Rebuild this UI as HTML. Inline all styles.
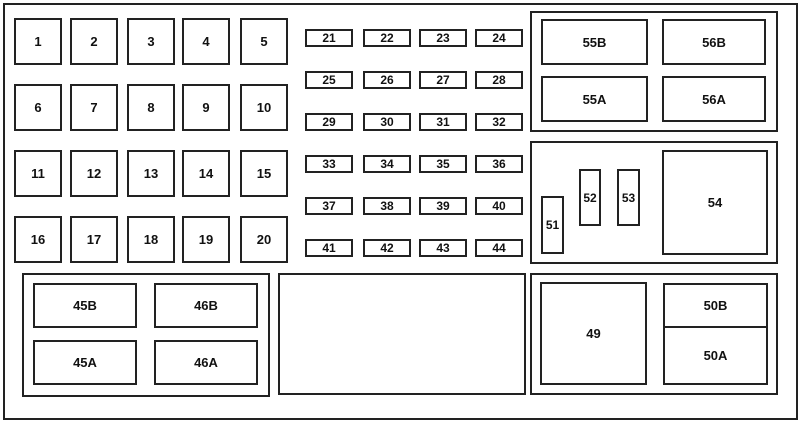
<!DOCTYPE html><html><head><style>
body{margin:0;background:#fff;width:800px;height:423px;position:relative;font-family:"Liberation Sans",sans-serif;font-weight:bold;color:#111}
.b{position:absolute;border:2.5px solid #222;box-sizing:border-box;display:flex;align-items:center;justify-content:center;font-size:13px;background:#fff}
.s{font-size:12px;border-width:2px}
</style></head><body>
<div class="b" style="left:3px;top:3px;width:795px;height:417px"></div>
<div id="c"></div>
<script>
var h='';function b(x,y,w,hh,t,c){h+='<div class="b '+(c||'')+'" style="left:'+x+'px;top:'+y+'px;width:'+w+'px;height:'+hh+'px">'+t+'</div>';}
var cx=[14,70,127,182,240],ry=[18,84,150,216],n=1;
for(var r=0;r<4;r++)for(var i=0;i<5;i++)b(cx[i],ry[r],48,47,n++);
var mx=[305,363,419,475],my=[29,71,113,155,197,239];n=21;
for(var r=0;r<6;r++)for(var i=0;i<4;i++)b(mx[i],my[r],48,18,n++,'s');
b(530,11,248,121,'');b(541,19,107,46,'55B');b(662,19,104,46,'56B');b(541,76,107,46,'55A');b(662,76,104,46,'56A');
b(530,141,248,123,'');b(541,196,23,58,'51','s');b(579,169,22,57,'52','s');b(617,169,23,57,'53','s');b(662,150,106,105,'54');
b(530,273,248,122,'');b(540,282,107,103,'49');b(663,283,105,45,'50B');b(663,326,105,59,'50A');
b(22,273,248,124,'');b(33,283,104,45,'45B');b(154,283,104,45,'46B');b(33,340,104,45,'45A');b(154,340,104,45,'46A');
b(278,273,248,122,'');
document.getElementById('c').innerHTML=h;
</script>
</body></html>
